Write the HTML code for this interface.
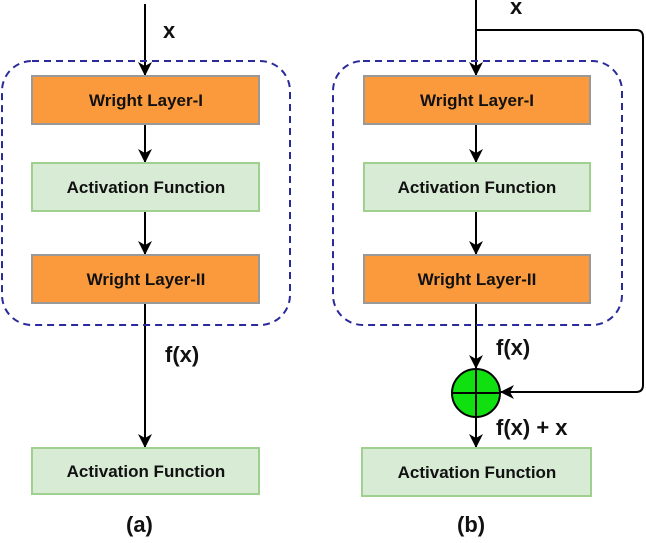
<!DOCTYPE html><html><head><style>body{margin:0;background:#fff}</style></head><body>
<svg width="646" height="538" xmlns="http://www.w3.org/2000/svg" font-family="Liberation Sans, sans-serif" font-weight="bold">
<defs><marker id="a" markerWidth="14" markerHeight="14" refX="13" refY="7" orient="auto" markerUnits="userSpaceOnUse"><path d="M0,0 L14,7 L0,14 L4,7 z" fill="#000"/></marker></defs>
<g stroke="#000" stroke-width="2" fill="none" marker-end="url(#a)">
<line x1="145" y1="4" x2="145" y2="75"/><line x1="145" y1="124" x2="145" y2="162"/><line x1="145" y1="211" x2="145" y2="254"/><line x1="145" y1="303" x2="145" y2="447"/>
<line x1="476" y1="0" x2="476" y2="75"/><line x1="476" y1="124" x2="476" y2="162"/><line x1="476" y1="211" x2="476" y2="254"/><line x1="476" y1="303" x2="476" y2="368"/><line x1="476" y1="417" x2="476" y2="447"/>
<path d="M476,30 H636 Q643,30 643,37 V385 Q643,392 636,392 H501"/>
</g>
<g fill="none" stroke="#2a2a9a" stroke-width="2" stroke-dasharray="7,5"><rect x="2" y="61" width="288" height="264" rx="30"/><rect x="333" y="61" width="289" height="264" rx="30"/></g>
<g stroke="#999" stroke-width="2">
<rect x="32" y="76" width="227" height="48" fill="#fa9a3c"/><rect x="32" y="163" width="227" height="48" fill="#d7ebd5" stroke="#9fd08f"/><rect x="32" y="255" width="227" height="48" fill="#fa9a3c"/><rect x="32" y="448" width="227" height="46" fill="#d7ebd5" stroke="#9fd08f"/>
<rect x="364" y="76" width="226" height="48" fill="#fa9a3c"/><rect x="364" y="163" width="226" height="48" fill="#d7ebd5" stroke="#9fd08f"/><rect x="364" y="255" width="226" height="48" fill="#fa9a3c"/><rect x="362" y="448" width="229" height="48" fill="#d7ebd5" stroke="#9fd08f"/>
</g>
<circle cx="476" cy="393" r="24" fill="#10e010" stroke="#000" stroke-width="2"/><path d="M452,393H500M476,369V417" stroke="#000" stroke-width="2"/>
<g font-size="17" text-anchor="middle" fill="#111">
<text x="146" y="106">Wright Layer-I</text><text x="146" y="193">Activation Function</text><text x="146" y="285">Wright Layer-II</text><text x="146" y="477">Activation Function</text>
<text x="477" y="106">Wright Layer-I</text><text x="477" y="193">Activation Function</text><text x="477" y="285">Wright Layer-II</text><text x="477" y="478">Activation Function</text>
</g>
<g font-size="22" fill="#111">
<text x="163" y="38">x</text><text x="510" y="14">x</text><text x="165" y="362">f(x)</text><text x="496" y="355">f(x)</text><text x="496" y="435">f(x) + x</text>
<text x="126" y="532">(a)</text><text x="457" y="532">(b)</text>
</g>
</svg></body></html>
